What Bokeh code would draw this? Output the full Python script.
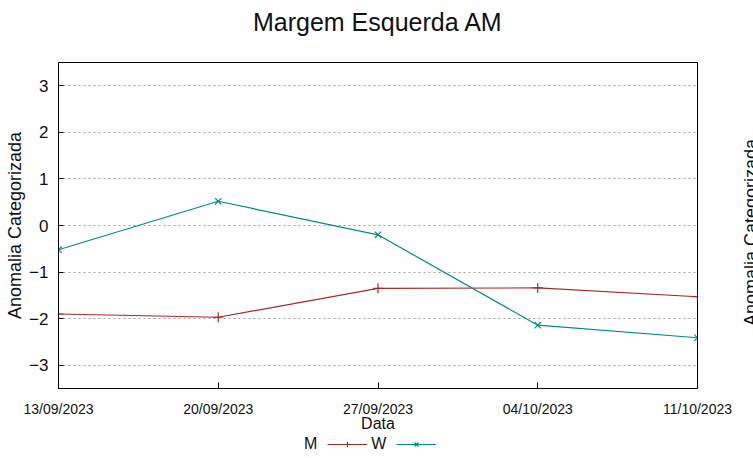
import math
import pandas as pd
from bokeh.plotting import figure
from bokeh.layouts import row, column
from bokeh.models import (Range1d, FixedTicker, DatetimeTickFormatter,
                          Legend, LegendItem, Label)
from bokeh.embed import file_html
from bokeh.resources import INLINE

# ---- data ----
date_str = ["2023-09-13", "2023-09-20", "2023-09-27", "2023-10-04", "2023-10-11"]
m_vals = [-1.90, -1.97, -1.35, -1.34, -1.53]
w_vals = [-0.52, 0.52, -0.20, -2.14, -2.41]
y_ticks = [-3, -2, -1, 0, 1, 2, 3]
series_names = ["M", "W"]
title_text = "Margem Esquerda AM"
y_label = "Anomalia Categorizada"
x_label = "Data"

FONT = "Liberation Sans"
TXT = "#111111"
RED = "#a52a2a"
TEAL = "#008b8b"

dates = pd.to_datetime(date_str, format="%Y-%m-%d")
ms = [d.timestamp() * 1000.0 for d in dates]

FULL_W = 753
W, HT, H, HK = 732, 42, 392, 24


def strip(width, height, **kw):
    f = figure(width=width, height=height, output_backend="svg", toolbar_location=None,
               min_border=0, x_axis_location=None, y_axis_location=None, **kw)
    f.grid.visible = False
    f.outline_line_color = None
    f.border_fill_color = "white"
    f.background_fill_color = "white"
    return f


# ---- title strip ----
p0 = strip(FULL_W, HT, x_range=Range1d(0, 1), y_range=Range1d(0, 1))
p0.add_layout(Label(x=377.5, y=21, x_units="screen", y_units="screen", text=title_text,
                    text_align="center", text_baseline="middle",
                    text_font=FONT, text_font_size="25px", text_color=TXT))

# ---- main plot ----
p = figure(width=W, height=H, x_axis_type="datetime",
           x_range=Range1d(dates[0], dates[-1]), y_range=Range1d(-3.5, 3.5),
           output_backend="svg", toolbar_location=None,
           min_border_left=58, min_border_right=35,
           min_border_top=20, min_border_bottom=46)
p.background_fill_color = "white"
p.border_fill_color = "white"
p.outline_line_color = "black"
p.outline_line_width = 1

fmt = "%d/%m/%Y"
xa = p.xaxis[0]
xa.ticker = FixedTicker(ticks=ms)
xa.formatter = DatetimeTickFormatter(
    microseconds=fmt, milliseconds=fmt, seconds=fmt, minsec=fmt, minutes=fmt,
    hourmin=fmt, hours=fmt, days=fmt, months=fmt, years=fmt)
xa.major_tick_in = 6
xa.major_tick_out = 0
xa.minor_tick_line_color = None
xa.axis_line_color = "black"
xa.major_tick_line_color = "black"
xa.major_label_text_font = FONT
xa.major_label_text_font_size = "14px"
xa.major_label_text_color = TXT
xa.major_label_standoff = 12
xa.axis_label = x_label
xa.axis_label_text_font = FONT
xa.axis_label_text_font_size = "16px"
xa.axis_label_text_font_style = "normal"
xa.axis_label_text_color = TXT
xa.axis_label_standoff = -5

ya = p.yaxis[0]
ya.ticker = FixedTicker(ticks=y_ticks)
ya.major_tick_in = 5
ya.major_tick_out = 0
ya.minor_tick_line_color = None
ya.axis_line_color = "black"
ya.major_tick_line_color = "black"
ya.major_label_text_font = FONT
ya.major_label_text_font_size = "17px"
ya.major_label_text_color = TXT
ya.major_label_standoff = 10
ya.axis_label = y_label
ya.axis_label_text_font = FONT
ya.axis_label_text_font_size = "18px"
ya.axis_label_text_font_style = "normal"
ya.axis_label_text_color = TXT
ya.axis_label_standoff = 1

p.xgrid.visible = False
p.ygrid.ticker = FixedTicker(ticks=y_ticks)
p.ygrid.grid_line_color = "#a0a0a0"
p.ygrid.grid_line_dash = "2 3"
p.ygrid.grid_line_width = 1

p.line(x=dates, y=m_vals, line_color=RED, line_width=1.2)
p.scatter(x=dates, y=m_vals, marker="cross", size=10, line_color=RED, line_width=1.2)
p.line(x=dates, y=w_vals, line_color=TEAL, line_width=1.2)
p.scatter(x=dates, y=w_vals, marker="x", size=9, line_color=TEAL, line_width=1.2)

# ---- neighbouring plot's y label (cut at the window edge) ----
p2 = figure(width=FULL_W - W, height=H, output_backend="svg", toolbar_location=None,
            min_border=0, x_range=Range1d(0, 1), y_range=Range1d(0, 1))
p2.axis.visible = False
p2.grid.visible = False
p2.outline_line_color = None
p2.border_fill_color = "white"
p2.background_fill_color = "white"
p2.add_layout(Label(x=18, y=156, x_units="screen", y_units="screen", text=y_label,
                    angle=math.pi / 2, text_align="center", text_baseline="middle",
                    text_font=FONT, text_font_size="18px", text_color=TXT))

# ---- key strip (gnuplot-style: name first, then its sample) ----
p3 = strip(FULL_W, HK, x_range=Range1d(dates[0], dates[-1]), y_range=Range1d(100, 101))
k_blank = p3.line(x=dates, y=m_vals, line_alpha=0)
k_ml = p3.line(x=dates, y=m_vals, line_color=RED, line_width=1.2)
k_ms = p3.scatter(x=dates, y=m_vals, marker="cross", size=10, line_color=RED, line_width=1.2)
k_wl = p3.line(x=dates, y=w_vals, line_color=TEAL, line_width=1.2)
k_ws = p3.scatter(x=dates, y=w_vals, marker="x", size=9, line_color=TEAL, line_width=1.2)
legend = Legend(items=[LegendItem(label=series_names[0], renderers=[k_blank]),
                       LegendItem(label=series_names[1], renderers=[k_ml, k_ms]),
                       LegendItem(label=" ", renderers=[k_wl, k_ws])],
                orientation="horizontal", location=(260, 5),
                glyph_width=40, glyph_height=14, label_standoff=4,
                label_width=10, label_height=14, spacing=10,
                padding=0, margin=0, border_line_color=None,
                background_fill_alpha=0,
                label_text_font=FONT, label_text_font_size="16px",
                label_text_color=TXT)
p3.add_layout(legend, "center")

layout = column(p0, row(p, p2, spacing=0), p3, spacing=0)
open("out.html", "w").write(file_html(layout, INLINE))
